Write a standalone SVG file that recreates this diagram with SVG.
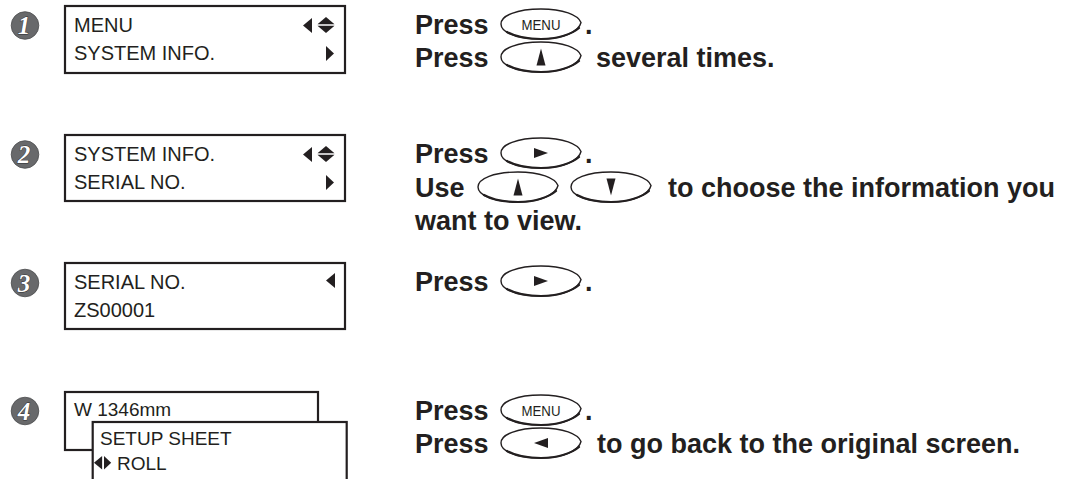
<svg xmlns="http://www.w3.org/2000/svg" xmlns:xlink="http://www.w3.org/1999/xlink" width="1067" height="479" viewBox="0 0 1067 479">
<style>
.bg{fill:#ffffff}
.box{fill:#ffffff;stroke:#231f20;stroke-width:2.2}
.lcd{font-family:"Liberation Sans",Arial,sans-serif;font-size:20px;fill:#231f20}
.lcd4{font-family:"Liberation Sans",Arial,sans-serif;font-size:19px;fill:#231f20}
.ico{fill:#231f20}
.num{fill:#68696b;stroke:#4a4b4d;stroke-width:0.8}
.numt{font-family:"Liberation Serif","Times New Roman",serif;font-size:25px;font-weight:bold;font-style:italic;fill:#ffffff;stroke:#2f2f31;stroke-width:0.9;paint-order:stroke;text-anchor:middle}
.txt{font-family:"Liberation Sans",Arial,sans-serif;font-size:27px;font-weight:bold;fill:#231f20}
.btn{fill:#ffffff;stroke:#231f20;stroke-width:1.4}
.btnb{fill:none;stroke:#231f20;stroke-width:2.2;stroke-linecap:round}
.key{font-family:"Liberation Sans",Arial,sans-serif;font-size:15px;fill:#231f20;text-anchor:middle}
</style>
<defs>
<g id="btn">
<path class="btn" d="M1,0 C1,-8.5 17,-15 41,-15 C63,-15 78,-9 81,-1.5 C79,8 62,15 41,15 C17,15 1,8.5 1,0 Z"/>
<path class="btnb" d="M7,8 C16,13 28,15 41,15 C58,15 72,10 79,4"/>
</g>
<g id="bMenu"><use xlink:href="#btn"/><text class="key" x="41" y="5.5" textLength="39" lengthAdjust="spacingAndGlyphs">MENU</text></g>
<g id="bUp"><use xlink:href="#btn"/><polygon class="ico" points="36.5,8.5 45.5,8.5 41,-8.5"/></g>
<g id="bDown"><use xlink:href="#btn"/><polygon class="ico" points="36.5,-8.5 45.5,-8.5 41,8.5"/></g>
<g id="bRight"><use xlink:href="#btn"/><polygon class="ico" points="34,-5 34,5 48,0"/></g>
<g id="bLeft"><use xlink:href="#btn"/><polygon class="ico" points="48,-5 48,5 34,0"/></g>
<g id="arrL"><polygon class="ico" points="0,7.5 9,0 9,15"/></g>
<g id="arrR"><polygon class="ico" points="0,0 0,15 8,7.5"/></g>
<g id="arrUD"><polygon class="ico" points="0,7.3 17,7.3 8.5,0"/><polygon class="ico" points="0,8.7 17,8.7 8.5,16"/></g>
</defs>
<rect class="bg" x="0" y="0" width="1067" height="479"/>

<g id="step1">
<circle class="num" cx="25" cy="25.5" r="13.8"/>
<text class="numt" x="24" y="34">1</text>
<rect class="box" x="65" y="6" width="280" height="67"/>
<text class="lcd" x="74" y="32">MENU</text>
<text class="lcd" x="74" y="60">SYSTEM INFO.</text>
<use xlink:href="#arrL" x="303" y="18"/>
<use xlink:href="#arrUD" x="317.5" y="17"/>
<use xlink:href="#arrR" x="326" y="46"/>
<text class="txt" x="415" y="34">Press</text>
<use xlink:href="#bMenu" x="500" y="24"/>
<text class="txt" x="585" y="34">.</text>
<text class="txt" x="415" y="67">Press</text>
<use xlink:href="#bUp" x="500" y="57"/>
<text class="txt" x="596" y="67">several times.</text>
</g>

<g id="step2">
<circle class="num" cx="25" cy="154.5" r="13.8"/>
<text class="numt" x="24" y="163">2</text>
<rect class="box" x="65" y="135" width="280" height="66"/>
<text class="lcd" x="74" y="161">SYSTEM INFO.</text>
<text class="lcd" x="74" y="189">SERIAL NO.</text>
<use xlink:href="#arrL" x="303" y="147"/>
<use xlink:href="#arrUD" x="317.5" y="146"/>
<use xlink:href="#arrR" x="326" y="175"/>
<text class="txt" x="415" y="163">Press</text>
<use xlink:href="#bRight" x="500" y="153"/>
<text class="txt" x="585" y="163">.</text>
<text class="txt" x="415" y="197">Use</text>
<use xlink:href="#bUp" x="477" y="187"/>
<use xlink:href="#bDown" x="570" y="187"/>
<text class="txt" x="668" y="197">to choose the information you</text>
<text class="txt" x="415" y="230">want to view.</text>
</g>

<g id="step3">
<circle class="num" cx="25" cy="283" r="13.8"/>
<text class="numt" x="24" y="291.5">3</text>
<rect class="box" x="65" y="263" width="280" height="66"/>
<text class="lcd" x="74" y="289">SERIAL NO.</text>
<text class="lcd" x="74" y="317">ZS00001</text>
<use xlink:href="#arrL" x="326" y="273"/>
<text class="txt" x="415" y="291">Press</text>
<use xlink:href="#bRight" x="500" y="281"/>
<text class="txt" x="585" y="291">.</text>
</g>

<g id="step4">
<circle class="num" cx="25" cy="411" r="13.8"/>
<text class="numt" x="24" y="419.5">4</text>
<rect class="box" x="65" y="392" width="253" height="58"/>
<text class="lcd4" x="74" y="416">W 1346mm</text>
<rect class="box" x="92.7" y="422" width="254" height="70"/>
<text class="lcd4" x="100" y="445">SETUP SHEET</text>
<g transform="translate(94,456) scale(0.9)"><use xlink:href="#arrL"/></g>
<g transform="translate(104,456) scale(0.9)"><use xlink:href="#arrR"/></g>
<text class="lcd4" x="117" y="470">ROLL</text>
<text class="txt" x="415" y="420">Press</text>
<use xlink:href="#bMenu" x="500" y="410"/>
<text class="txt" x="585" y="420">.</text>
<text class="txt" x="415" y="453">Press</text>
<use xlink:href="#bLeft" x="500" y="443"/>
<text class="txt" x="597" y="453">to go back to the original screen.</text>
</g>
</svg>
